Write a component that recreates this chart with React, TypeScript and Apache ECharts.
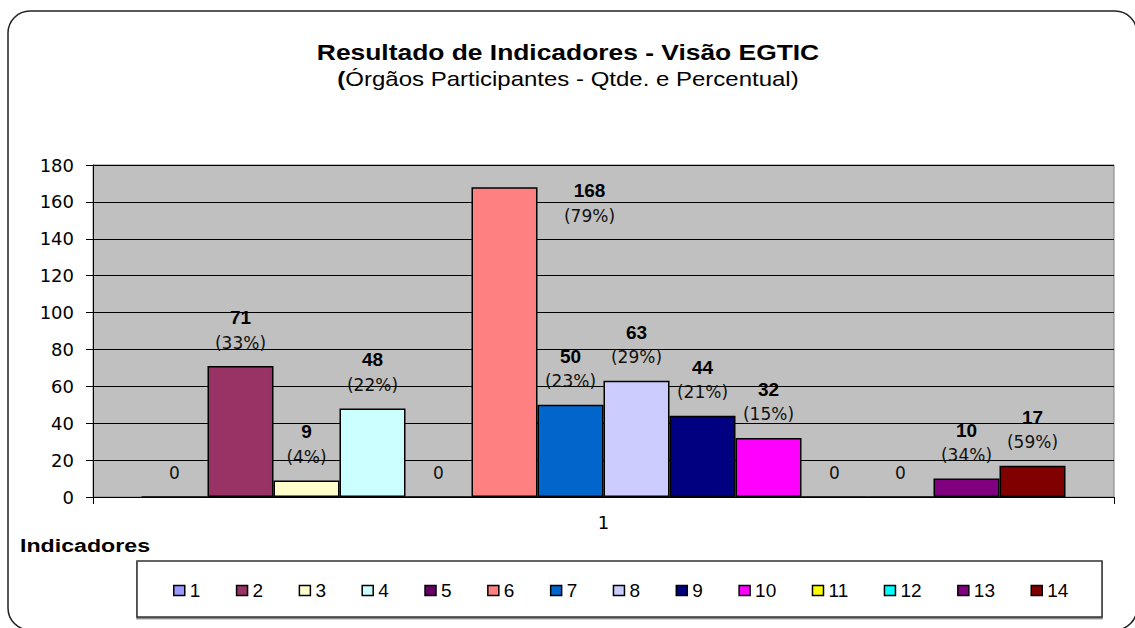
import React, { useEffect, useRef } from "react";
import * as echarts from "echarts";

const categories = ["1"];
const seriesNames = ["1", "2", "3", "4", "5", "6", "7", "8", "9", "10", "11", "12", "13", "14"];
const values = [0, 71, 9, 48, 0, 168, 50, 63, 44, 32, 0, 0, 10, 17];
const percents = ["", "33%", "4%", "22%", "", "79%", "23%", "29%", "21%", "15%", "", "", "34%", "59%"];
const colors = [
  "#9999FF", "#993366", "#FFFFCC", "#CCFFFF", "#660066", "#FF8080", "#0066CC",
  "#CCCCFF", "#000080", "#FF00FF", "#FFFF00", "#00FFFF", "#800080", "#800000",
];
const yMin = 0;
const yMax = 180;
const yInterval = 20;
const titleText = "Resultado de Indicadores - Visão EGTIC";
const subtitleText = "Órgãos Participantes - Qtde. e Percentual)";
const axisName = "Indicadores";

const FONT = "'Liberation Sans', Arial, sans-serif";
const WIDE = "'DejaVu Sans', 'Liberation Sans', sans-serif";

export default function App() {
  const ref = useRef<HTMLDivElement>(null);
  useEffect(() => {
    document.body.style.margin = "0";
    if (!ref.current) return;
    const chart = echarts.init(ref.current, null, { renderer: "svg" });

    const series = seriesNames.map((name, i) => {
      const v = values[i];
      const p = percents[i];
      const label: any = {
        show: true,
        position: "top",
        distance: 11,
        formatter: () => (p ? `{v|${v}}\n{p|(${p})}` : `{p|${v}}`),
        rich: {
          v: { fontFamily: FONT, fontSize: 19, fontWeight: "bold", color: "#000", lineHeight: 25 },
          p: { fontFamily: WIDE, fontSize: 17, color: "#111", lineHeight: 25 },
        },
      };
      if (i === 5) label.offset = [85, 52];
      return {
        name,
        type: "bar",
        data: [v],
        barGap: "0%",
        barCategoryGap: "9.5%",
        itemStyle: { color: colors[i], borderColor: "#000", borderWidth: 1.5 },
        label,
      };
    });

    chart.setOption({
      animation: false,
      backgroundColor: "#fff",
      textStyle: { fontFamily: FONT },
      grid: {
        left: 93,
        right: 21,
        top: 165,
        bottom: 131,
        show: true,
        backgroundColor: "#C0C0C0",
        borderColor: "#808080",
        borderWidth: 1,
      },
      legend: {
        data: seriesNames,
        left: 168,
        top: 576,
        icon: "rect",
        itemWidth: 11,
        itemHeight: 10,
        itemGap: 35.5,
        itemStyle: { borderColor: "#000", borderWidth: 1.5 },
        textStyle: { fontFamily: FONT, fontSize: 19, color: "#000" },
      },
      xAxis: {
        type: "category",
        data: categories,
        axisLine: { lineStyle: { color: "#000", width: 1 } },
        axisTick: { show: true, length: 7, lineStyle: { color: "#000" } },
        axisLabel: { fontFamily: WIDE, fontSize: 18, color: "#000", margin: 16 },
      },
      yAxis: {
        type: "value",
        min: yMin,
        max: yMax,
        interval: yInterval,
        axisLine: { show: true, lineStyle: { color: "#000", width: 1 } },
        axisTick: { show: true, length: 7, lineStyle: { color: "#000" } },
        axisLabel: { fontFamily: WIDE, fontSize: 18, color: "#000", margin: 19 },
        splitLine: { show: true, lineStyle: { color: "#000", width: 1 } },
      },
      graphic: [
        {
          type: "rect",
          shape: { x: 8, y: 11, width: 1129, height: 619, r: 22 },
          style: { fill: "none", stroke: "#222", lineWidth: 1.5 },
          z: -1,
        },
        {
          type: "rect",
          shape: { x: 137, y: 561, width: 965, height: 56 },
          style: { fill: "#fff", stroke: "#333", lineWidth: 1.5, shadowColor: "rgba(0,0,0,0.5)", shadowOffsetY: 1.5, shadowBlur: 0 },
          z: -1,
        },
        {
          type: "text",
          x: 568,
          y: 52,
          scaleX: 1.2,
          style: {
            text: titleText,
            font: `bold 22px ${FONT}`,
            fill: "#000",
            textAlign: "center",
            textVerticalAlign: "middle",
          },
        },
        {
          type: "text",
          x: 568,
          y: 79,
          scaleX: 1.2,
          style: {
            text: `{b|(}{n|${subtitleText}}`,
            textAlign: "center",
            textVerticalAlign: "middle",
            rich: {
              b: { fontFamily: FONT, fontSize: 20, fontWeight: "bold", fill: "#000", color: "#000" },
              n: { fontFamily: FONT, fontSize: 20, fill: "#000", color: "#000" },
            },
          },
        },
        {
          type: "text",
          x: 20,
          y: 545,
          scaleX: 1.22,
          style: {
            text: axisName,
            font: `bold 19px ${FONT}`,
            fill: "#000",
            textAlign: "left",
            textVerticalAlign: "middle",
          },
        },
      ],
      series,
    });
    return () => chart.dispose();
  }, []);
  return (
    <div
      ref={ref}
      style={{ position: "fixed", left: 0, top: 0, width: 1135, height: 628 }}
    />
  );
}
